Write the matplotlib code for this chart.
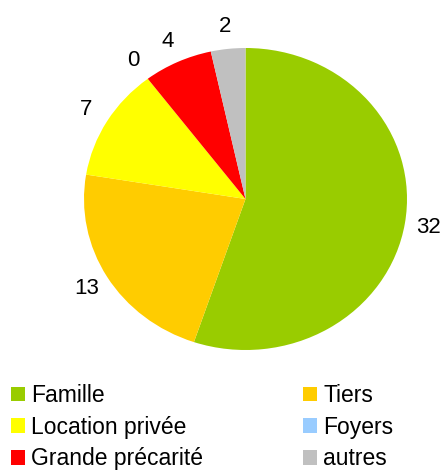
import matplotlib.pyplot as plt
from matplotlib.patches import Patch

plt.rcParams['font.family'] = ['Liberation Sans', 'DejaVu Sans']

labels = ["Famille", "Tiers", "Location privée", "Foyers", "Grande précarité", "autres"]
values = [32, 13, 7, 0, 4, 2]
colors = ["#99cc00", "#ffcc00", "#ffff00", "#99ccff", "#ff0000", "#c0c0c0"]

W, H = 441, 471
fig = plt.figure(figsize=(W / 100, H / 100), dpi=100)
# pie is drawn a little wider than tall, like the original
ax = fig.add_axes([84 / W, 1 - 350 / H, 323 / W, 302 / H])

wedges, texts = ax.pie(values, colors=colors, startangle=90, counterclock=False,
                       labels=[str(v) for v in values], labeldistance=1.15,
                       wedgeprops=dict(linewidth=0),
                       textprops=dict(fontsize=16, ha="center", va="center"))
ax.set_aspect("auto")
ax.set_xlim(-1, 1)
ax.set_ylim(-1, 1)

# legend reads row by row, matplotlib fills columns first
order = [0, 2, 4, 1, 3, 5]
handles = [Patch(facecolor=colors[i], edgecolor="none") for i in order]
fig.legend(handles, [labels[i] for i in order], ncol=2, loc="upper left",
           bbox_to_anchor=(11 / W, 1 - 384 / H), frameon=False, fontsize=16.5,
           handlelength=0.61, handleheight=0.61, handletextpad=0.26,
           labelspacing=0.38, columnspacing=4.37, borderpad=0, borderaxespad=0)

fig.savefig("out.png", dpi=100)
